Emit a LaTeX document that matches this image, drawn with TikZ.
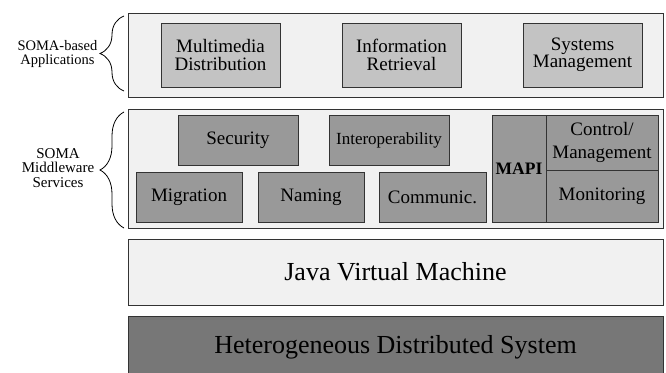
\documentclass[tikz,border=0pt]{standalone}
\usepackage{fontspec}
\setmainfont{Liberation Serif}
\newfontfamily\tnr{Liberation Serif}
\usetikzlibrary{decorations.pathreplacing}
\definecolor{outerfill}{RGB}{241,241,241}
\definecolor{appfill}{RGB}{195,195,195}
\definecolor{mwfill}{RGB}{153,153,153}
\definecolor{hdsfill}{RGB}{119,119,119}
\definecolor{edgecol}{RGB}{51,51,51}
\begin{document}
\begin{tikzpicture}[x=1pt,y=-1pt,
 box/.style={draw=edgecol, line width=0.8pt, inner sep=0pt, outer sep=0pt, align=center},
 layer/.style={box, fill=outerfill},
 appbox/.style={box, fill=appfill, minimum width=119pt, minimum height=64pt, font=\tnr\fontsize{19}{17.5}\selectfont},
 mwbox/.style={box, fill=mwfill, font=\tnr\fontsize{19}{17.5}\selectfont},
 bigtext/.style={font=\tnr\fontsize{26}{28}\selectfont},
 sidelabel/.style={align=center, inner sep=0pt, anchor=east},
 bracedeco/.style={draw=black, line width=0.8pt, decorate, decoration={brace, amplitude=24pt}}
]
\useasboundingbox (0,0) rectangle (666,372);
\clip (0,0) rectangle (666,372);

% application layer
\node[layer, minimum width=535pt, minimum height=84pt] (applayer) at (395.5,55) {};
\node[appbox] (mm) at (220.5,55) {Multimedia\\Distribution};
\node[appbox] (ir) at (401.5,55) {Information\\Retrieval};
\node[appbox] (sm) at (582.5,55) {Systems\\Management};

% middleware layer
\node[layer, minimum width=535pt, minimum height=119pt] (mwlayer) at (395.5,168.5) {};
\node[mwbox, minimum width=120pt, minimum height=50pt] (sec) at (238,140) {Security};
\node[mwbox, minimum width=120pt, minimum height=50pt, font=\tnr\fontsize{17}{17}\selectfont] (interop) at (389,140) {Interoperability};
\node[mwbox, minimum width=106pt, minimum height=50pt] (mig) at (189,197) {Migration};
\node[mwbox, minimum width=106pt, minimum height=50pt] (nam) at (311,197) {Naming};
\node[mwbox, minimum width=107pt, minimum height=50pt] (com) at (432.5,197) {Communic.};
\node[mwbox, minimum width=54pt, minimum height=107pt, font=\tnr\fontsize{17.5}{17.5}\selectfont\bfseries] (mapi) at (519,168.5) {MAPI};
\node[mwbox, minimum width=112pt, minimum height=55pt, font=\tnr\fontsize{19}{23}\selectfont] (ctrl) at (602,142.5) {Control/\\Management};
\node[mwbox, minimum width=112pt, minimum height=52pt] (mon) at (602,196) {Monitoring};

% lower layers
\node[layer, bigtext, minimum width=535pt, minimum height=66pt] (jvm) at (395.5,272) {Java Virtual Machine};
\node[box, bigtext, fill=hdsfill, minimum width=535pt, minimum height=62pt] (hds) at (395.5,347) {Heterogeneous Distributed System};

% braces and side labels
\coordinate (b1s) at (124,91);
\coordinate (b1e) at (124,16);
\coordinate (b2s) at (124,228);
\coordinate (b2e) at (124,112);
\draw[bracedeco] (b1s) -- (b1e);
\draw[bracedeco] (b2s) -- (b2e);
\node[sidelabel, font=\tnr\fontsize{14.5}{14}\selectfont] (lab1) at (97.5,54) {SOMA-based\\Applications};
\node[sidelabel, font=\tnr\fontsize{15}{14.5}\selectfont] (lab2) at (94.5,168) {SOMA\\Middleware\\Services};
\end{tikzpicture}
\end{document}
